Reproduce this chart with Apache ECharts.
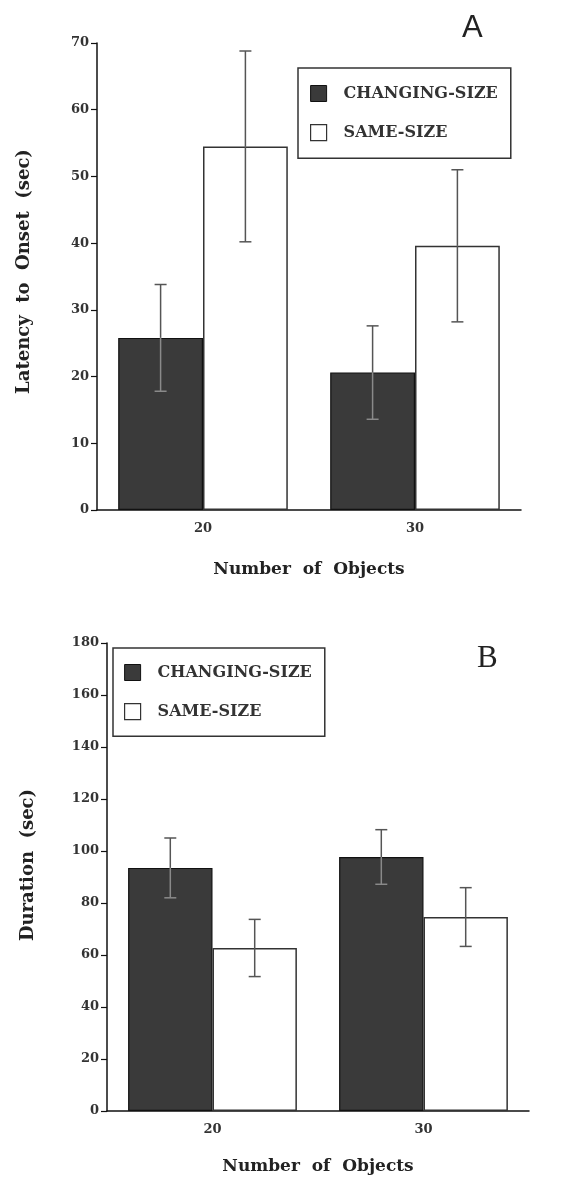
<!DOCTYPE html>
<html><head><meta charset="utf-8">
<script src="https://cdn.jsdelivr.net/npm/echarts@6/dist/echarts.min.js"></script>
<style>html,body{margin:0;padding:0;background:#fff}#c{width:579px;height:1182px}</style>
</head><body><div id="c"></div>
<script>
var categories = ['20', '30'];
var seriesNames = ['CHANGING-SIZE', 'SAME-SIZE'];
// Panel A: Latency to Onset (sec)
var latencyChanging = [25.8, 20.6];
var latencyChangingErr = [8.0, 7.0];
var latencySame = [54.5, 39.6];
var latencySameErr = [14.3, 11.4];
// Panel B: Duration (sec)
var durationChanging = [93.5, 97.7];
var durationChangingErr = [11.5, 10.5];
var durationSame = [62.7, 74.6];
var durationSameErr = [11.0, 11.3];
var yTicksA = [0, 10, 20, 30, 40, 50, 60, 70];
var yTicksB = [0, 20, 40, 60, 80, 100, 120, 140, 160, 180];

var SERIF = '"DejaVu Serif", "Liberation Serif", serif';
var DARK = '#3a3a3a';

function errData(means, errs) {
  return means.map(function (m, i) { return [i, m - errs[i], m + errs[i], m]; });
}
function errRender(sign, darkBar) {
  return function (params, api) {
    var i = api.value(0);
    var lo = api.coord([i, api.value(1)]);
    var hi = api.coord([i, api.value(2)]);
    var top = api.coord([i, api.value(3)]);
    var bw = api.size([1, 0])[0];
    var cx = lo[0] + sign * bw * 0.2;
    var cap = 6;
    var outer = '#555';
    var inner = darkBar ? '#8a8a8a' : '#555';
    return {
      type: 'group',
      children: [
        { type: 'line', shape: { x1: cx, y1: hi[1], x2: cx, y2: top[1] }, style: { stroke: outer, lineWidth: 1.5 } },
        { type: 'line', shape: { x1: cx, y1: top[1], x2: cx, y2: lo[1] }, style: { stroke: inner, lineWidth: 1.5 } },
        { type: 'line', shape: { x1: cx - cap, y1: hi[1], x2: cx + cap, y2: hi[1] }, style: { stroke: outer, lineWidth: 1.5 } },
        { type: 'line', shape: { x1: cx - cap, y1: lo[1], x2: cx + cap, y2: lo[1] }, style: { stroke: inner, lineWidth: 1.5 } }
      ]
    };
  };
}

function xAxisDef(gi, name, nameGap) {
  return {
    type: 'category', gridIndex: gi, data: categories,
    name: name, nameLocation: 'middle', nameGap: nameGap,
    nameTextStyle: { fontFamily: SERIF, fontWeight: 'bold', fontSize: 17, color: '#222' },
    axisLine: { lineStyle: { color: '#111', width: 1.5 } },
    axisTick: { alignWithLabel: true, length: 6, lineStyle: { color: '#111', width: 1.2 } },
    axisLabel: { fontFamily: SERIF, fontWeight: 'bold', fontSize: 13, color: '#333', margin: 12 }
  };
}
function yAxisDef(gi, max, interval, name, nameGap, shift) {
  return {
    type: 'value', gridIndex: gi, min: 0, max: max, interval: interval,
    name: name, nameLocation: 'middle', nameGap: nameGap,
    nameTextStyle: { fontFamily: SERIF, fontWeight: 'bold', fontSize: 18, color: '#222', padding: [0, 0, 0, shift] },
    axisLine: { show: true, lineStyle: { color: '#111', width: 1.5 } },
    axisTick: { show: true, length: 6, lineStyle: { color: '#111', width: 1.2 } },
    splitLine: { show: false },
    axisLabel: { fontFamily: SERIF, fontWeight: 'bold', fontSize: 13, color: '#333', margin: 8 }
  };
}
function legendDef(left, top, pad) {
  return {
    orient: 'vertical', left: left, top: top,
    padding: pad, itemGap: 22, itemWidth: 16, itemHeight: 16,
    borderColor: '#333', borderWidth: 1.5,
    selectedMode: false,
    textStyle: { fontFamily: SERIF, fontWeight: 'bold', fontSize: 16, color: '#333', padding: [0, 0, 0, 12] },
    data: [
      { name: seriesNames[0], icon: 'rect', itemStyle: { color: DARK, borderColor: '#111', borderWidth: 1 } },
      { name: seriesNames[1], icon: 'rect', itemStyle: { color: '#fff', borderColor: '#333', borderWidth: 1.2 } }
    ]
  };
}
function barSeries(name, gi, data, dark) {
  return {
    type: 'bar', name: name, xAxisIndex: gi, yAxisIndex: gi, data: data,
    barWidth: '40%', barGap: '0%',
    itemStyle: dark ? { color: DARK, borderColor: '#111', borderWidth: 1.2 }
                    : { color: '#fff', borderColor: '#333', borderWidth: 1.5 },
    emphasis: { disabled: true }, animation: false
  };
}
function errSeries(gi, means, errs, sign, dark) {
  return {
    type: 'custom', xAxisIndex: gi, yAxisIndex: gi,
    data: errData(means, errs), renderItem: errRender(sign, dark),
    encode: { x: 0, y: [1, 2] }, z: 5, animation: false, silent: true
  };
}

var chart = echarts.init(document.getElementById('c'), null, { renderer: 'canvas' });
chart.setOption({
  backgroundColor: '#fff',
  animation: false,
  grid: [
    { left: 97, top: 43, width: 424, height: 467 },
    { left: 107, top: 643, width: 422, height: 468 }
  ],
  xAxis: [ xAxisDef(0, 'Number  of  Objects', 51), xAxisDef(1, 'Number  of  Objects', 47) ],
  yAxis: [ yAxisDef(0, 70, 10, 'Latency  to  Onset  (sec)', 64, 10), yAxisDef(1, 180, 20, 'Duration  (sec)', 70, 24) ],
  legend: [ legendDef(298, 68, [17, 13, 17, 12]), legendDef(113, 648, [16, 13, 16, 11]) ],
  graphic: [
    { type: 'text', left: 462, top: 13, style: { text: 'A', font: '31px "Liberation Sans", Arial, sans-serif', fill: '#222' } },
    { type: 'text', left: 477, top: 643, style: { text: 'B', font: '31px "Liberation Serif", serif', fill: '#222' } }
  ],
  series: [
    barSeries(seriesNames[0], 0, latencyChanging, true),
    barSeries(seriesNames[1], 0, latencySame, false),
    errSeries(0, latencyChanging, latencyChangingErr, -1, true),
    errSeries(0, latencySame, latencySameErr, 1, false),
    barSeries(seriesNames[0], 1, durationChanging, true),
    barSeries(seriesNames[1], 1, durationSame, false),
    errSeries(1, durationChanging, durationChangingErr, -1, true),
    errSeries(1, durationSame, durationSameErr, 1, false)
  ]
});
</script>
</body></html>
